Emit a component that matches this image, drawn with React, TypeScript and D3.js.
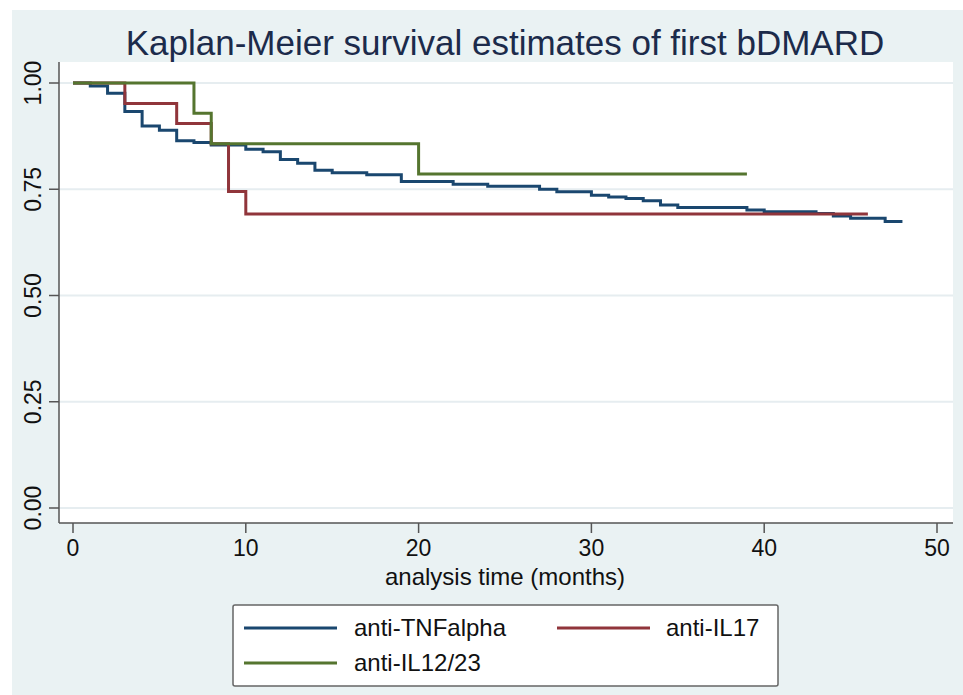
import React from 'react';
import * as d3 from 'd3';

// Kaplan-Meier step estimates (time in months, survival after the drop)
const tnfTimes = [0, 1, 2, 3, 4, 5, 6, 7, 8, 10, 11, 12, 13, 14, 15, 17, 19, 22, 24, 27, 28, 30, 31, 32, 33, 34, 35, 39, 40, 43, 44, 45, 47];
const tnfSurv = [1, 0.993, 0.976, 0.933, 0.899, 0.889, 0.864, 0.86, 0.854, 0.844, 0.838, 0.82, 0.811, 0.795, 0.789, 0.784, 0.768, 0.762, 0.757, 0.75, 0.744, 0.736, 0.732, 0.728, 0.723, 0.713, 0.707, 0.701, 0.697, 0.693, 0.687, 0.682, 0.674];
const tnfEnd = 48;

const il17Times = [0, 3, 6, 8, 9, 10];
const il17Surv = [1, 0.952, 0.905, 0.857, 0.745, 0.692];
const il17End = 46;

const il1223Times = [0, 7, 8, 20];
const il1223Surv = [1, 0.929, 0.857, 0.786];
const il1223End = 39;

const xTicks = [0, 10, 20, 30, 40, 50];
const yTicks = [0, 0.25, 0.5, 0.75, 1];

const seriesNames = ['anti-TNFalpha', 'anti-IL17', 'anti-IL12/23'];
const seriesColors = ['#1a476f', '#90353b', '#55752f'];

const W = 963;
const H = 695;

const toPoints = (times: number[], surv: number[], end: number) => {
  const pts: [number, number][] = times.map((t, i) => [t, surv[i]]);
  pts.push([end, surv[surv.length - 1]]);
  return pts;
};

const App = () => {
  const x = d3.scaleLinear().domain([0, 50]).range([73, 937]);
  const y = d3.scaleLinear().domain([0, 1]).range([508, 83]);

  const line = d3
    .line<[number, number]>()
    .x(d => x(d[0]))
    .y(d => y(d[1]))
    .curve(d3.curveStepAfter);

  const series = [
    toPoints(tnfTimes, tnfSurv, tnfEnd),
    toPoints(il17Times, il17Surv, il17End),
    toPoints(il1223Times, il1223Surv, il1223End),
  ];

  const axisLeft = 59;
  const axisBottom = 523;
  const plotRight = 953;
  const plotTop = 62;
  const font = "'Liberation Sans', Arial, sans-serif";

  // legend entries: [lineX, lineY, textX]
  const legendPos = [
    [244, 628, 354],
    [557, 628, 666],
    [244, 663, 354],
  ];

  return (
    <div style={{ position: 'absolute', left: 0, top: 0 }}>
      <svg width={W} height={H} style={{ display: 'block' }} fontFamily={font}>
        <rect x={0} y={0} width={W} height={H} fill="#ffffff" />
        <rect x={12} y={10} width={W - 12} height={H - 10} fill="#eaf2f3" />

        <text x={505} y={55} textAnchor="middle" fontSize={35} fill="#1c2b4b">
          Kaplan-Meier survival estimates of first bDMARD
        </text>

        <rect x={axisLeft} y={plotTop} width={plotRight - axisLeft} height={axisBottom - plotTop} fill="#ffffff" />

        {yTicks.map(t => (
          <line key={'g' + t} x1={axisLeft} x2={plotRight} y1={y(t)} y2={y(t)} stroke="#e6edf0" strokeWidth={2} />
        ))}

        {series.map((pts, i) => (
          <path key={i} d={line(pts) || ''} fill="none" stroke={seriesColors[i]} strokeWidth={3} />
        ))}

        <line x1={axisLeft} x2={axisLeft} y1={plotTop} y2={axisBottom} stroke="#555" strokeWidth={1.5} />
        <line x1={axisLeft} x2={plotRight} y1={axisBottom} y2={axisBottom} stroke="#555" strokeWidth={1.5} />

        {yTicks.map(t => (
          <g key={'y' + t}>
            <line x1={axisLeft - 10} x2={axisLeft} y1={y(t)} y2={y(t)} stroke="#555" strokeWidth={1.5} />
            <text
              transform={`translate(41,${y(t)}) rotate(-90)`}
              textAnchor="middle"
              fontSize={23}
              fill="#111"
            >
              {d3.format('.2f')(t)}
            </text>
          </g>
        ))}

        {xTicks.map(t => (
          <g key={'x' + t}>
            <line x1={x(t)} x2={x(t)} y1={axisBottom} y2={axisBottom + 10} stroke="#555" strokeWidth={1.5} />
            <text x={x(t)} y={556} textAnchor="middle" fontSize={23} fill="#111">
              {t}
            </text>
          </g>
        ))}

        <text x={505} y={585} textAnchor="middle" fontSize={24} fill="#111">
          analysis time (months)
        </text>

        <rect x={233} y={605} width={545} height={81} rx={2} fill="#ffffff" stroke="#666" strokeWidth={1.5} />
        {seriesNames.map((name, i) => (
          <g key={name}>
            <line
              x1={legendPos[i][0]}
              x2={legendPos[i][0] + 93}
              y1={legendPos[i][1]}
              y2={legendPos[i][1]}
              stroke={seriesColors[i]}
              strokeWidth={3}
            />
            <text x={legendPos[i][2]} y={legendPos[i][1] + 8} fontSize={24} fill="#111">
              {name}
            </text>
          </g>
        ))}
      </svg>
    </div>
  );
};

export default App;
